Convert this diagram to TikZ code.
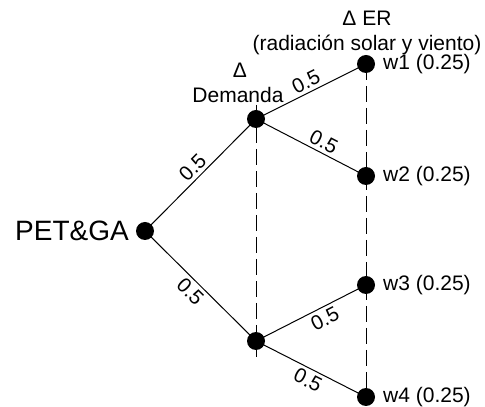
\documentclass[tikz,border=0pt]{standalone}
\usepackage{fontspec}
\setmainfont{Liberation Sans}
\begin{document}
\begin{tikzpicture}[x=1pt,y=1pt,
  dot/.style={circle,fill=black,inner sep=0pt,minimum size=18pt},
  branch/.style={line width=1pt},
  guide/.style={line width=1pt,dash pattern=on 16pt off 6pt},
  prob/.style={font=\fontsize{20.5}{21}\selectfont,sloped,inner sep=3.5pt},
  lbl/.style={font=\fontsize{21}{22}\selectfont,inner sep=0pt}]
\useasboundingbox (0,0) rectangle (485,407);
% positions of the tree levels
\coordinate (pu) at (256,288);
\coordinate (pl) at (256,66);
\coordinate (p1) at (366,343);
\coordinate (p4) at (366,10);
\coordinate (dtop) at (256,302);
\coordinate (dbot) at (256,50);
% stage guides, drawn beneath the nodes
\draw[guide] (dtop) -- (dbot);
\draw[guide] (p1) -- (p4);
% tree nodes
\node[dot] (root) at (145,176) {};
\node[dot] (up) at (pu) {};
\node[dot] (lo) at (pl) {};
\node[dot] (w1) at (p1) {};
\node[dot] (w2) at (366,231) {};
\node[dot] (w3) at (366,122) {};
\node[dot] (w4) at (p4) {};
% branches with probabilities
\draw[branch] (root.center) -- node[prob,above,pos=0.5] {0.5} (up.center);
\draw[branch] (root.center) -- node[prob,below,pos=0.48] {0.5} (lo.center);
\draw[branch] (up.center) -- node[prob,above,pos=0.5] {0.5} (w1.center);
\draw[branch] (up.center) -- node[prob,above,pos=0.57] {0.5} (w2.center);
\draw[branch] (lo.center) -- node[prob,below,pos=0.58] {0.5} (w3.center);
\draw[branch] (lo.center) -- node[prob,below,pos=0.52] {0.5} (w4.center);
% labels
\node[lbl,anchor=east,font=\fontsize{28}{29}\selectfont] (tr) at (129,176) {PET\&GA};
\node[lbl] (dh) at (240,337) {Δ};
\node[lbl] (dm) at (238,312) {Demanda};
\node[lbl] (eh) at (367,389) {Δ ER};
\node[lbl] (em) at (367,362) {(radiación solar y viento)};
\node[lbl,anchor=west] (l1) at (383,343) {w1 (0.25)};
\node[lbl,anchor=west] (l2) at (383,231) {w2 (0.25)};
\node[lbl,anchor=west] (l3) at (383,122) {w3 (0.25)};
\node[lbl,anchor=west] (l4) at (383,10) {w4 (0.25)};
\end{tikzpicture}
\end{document}
